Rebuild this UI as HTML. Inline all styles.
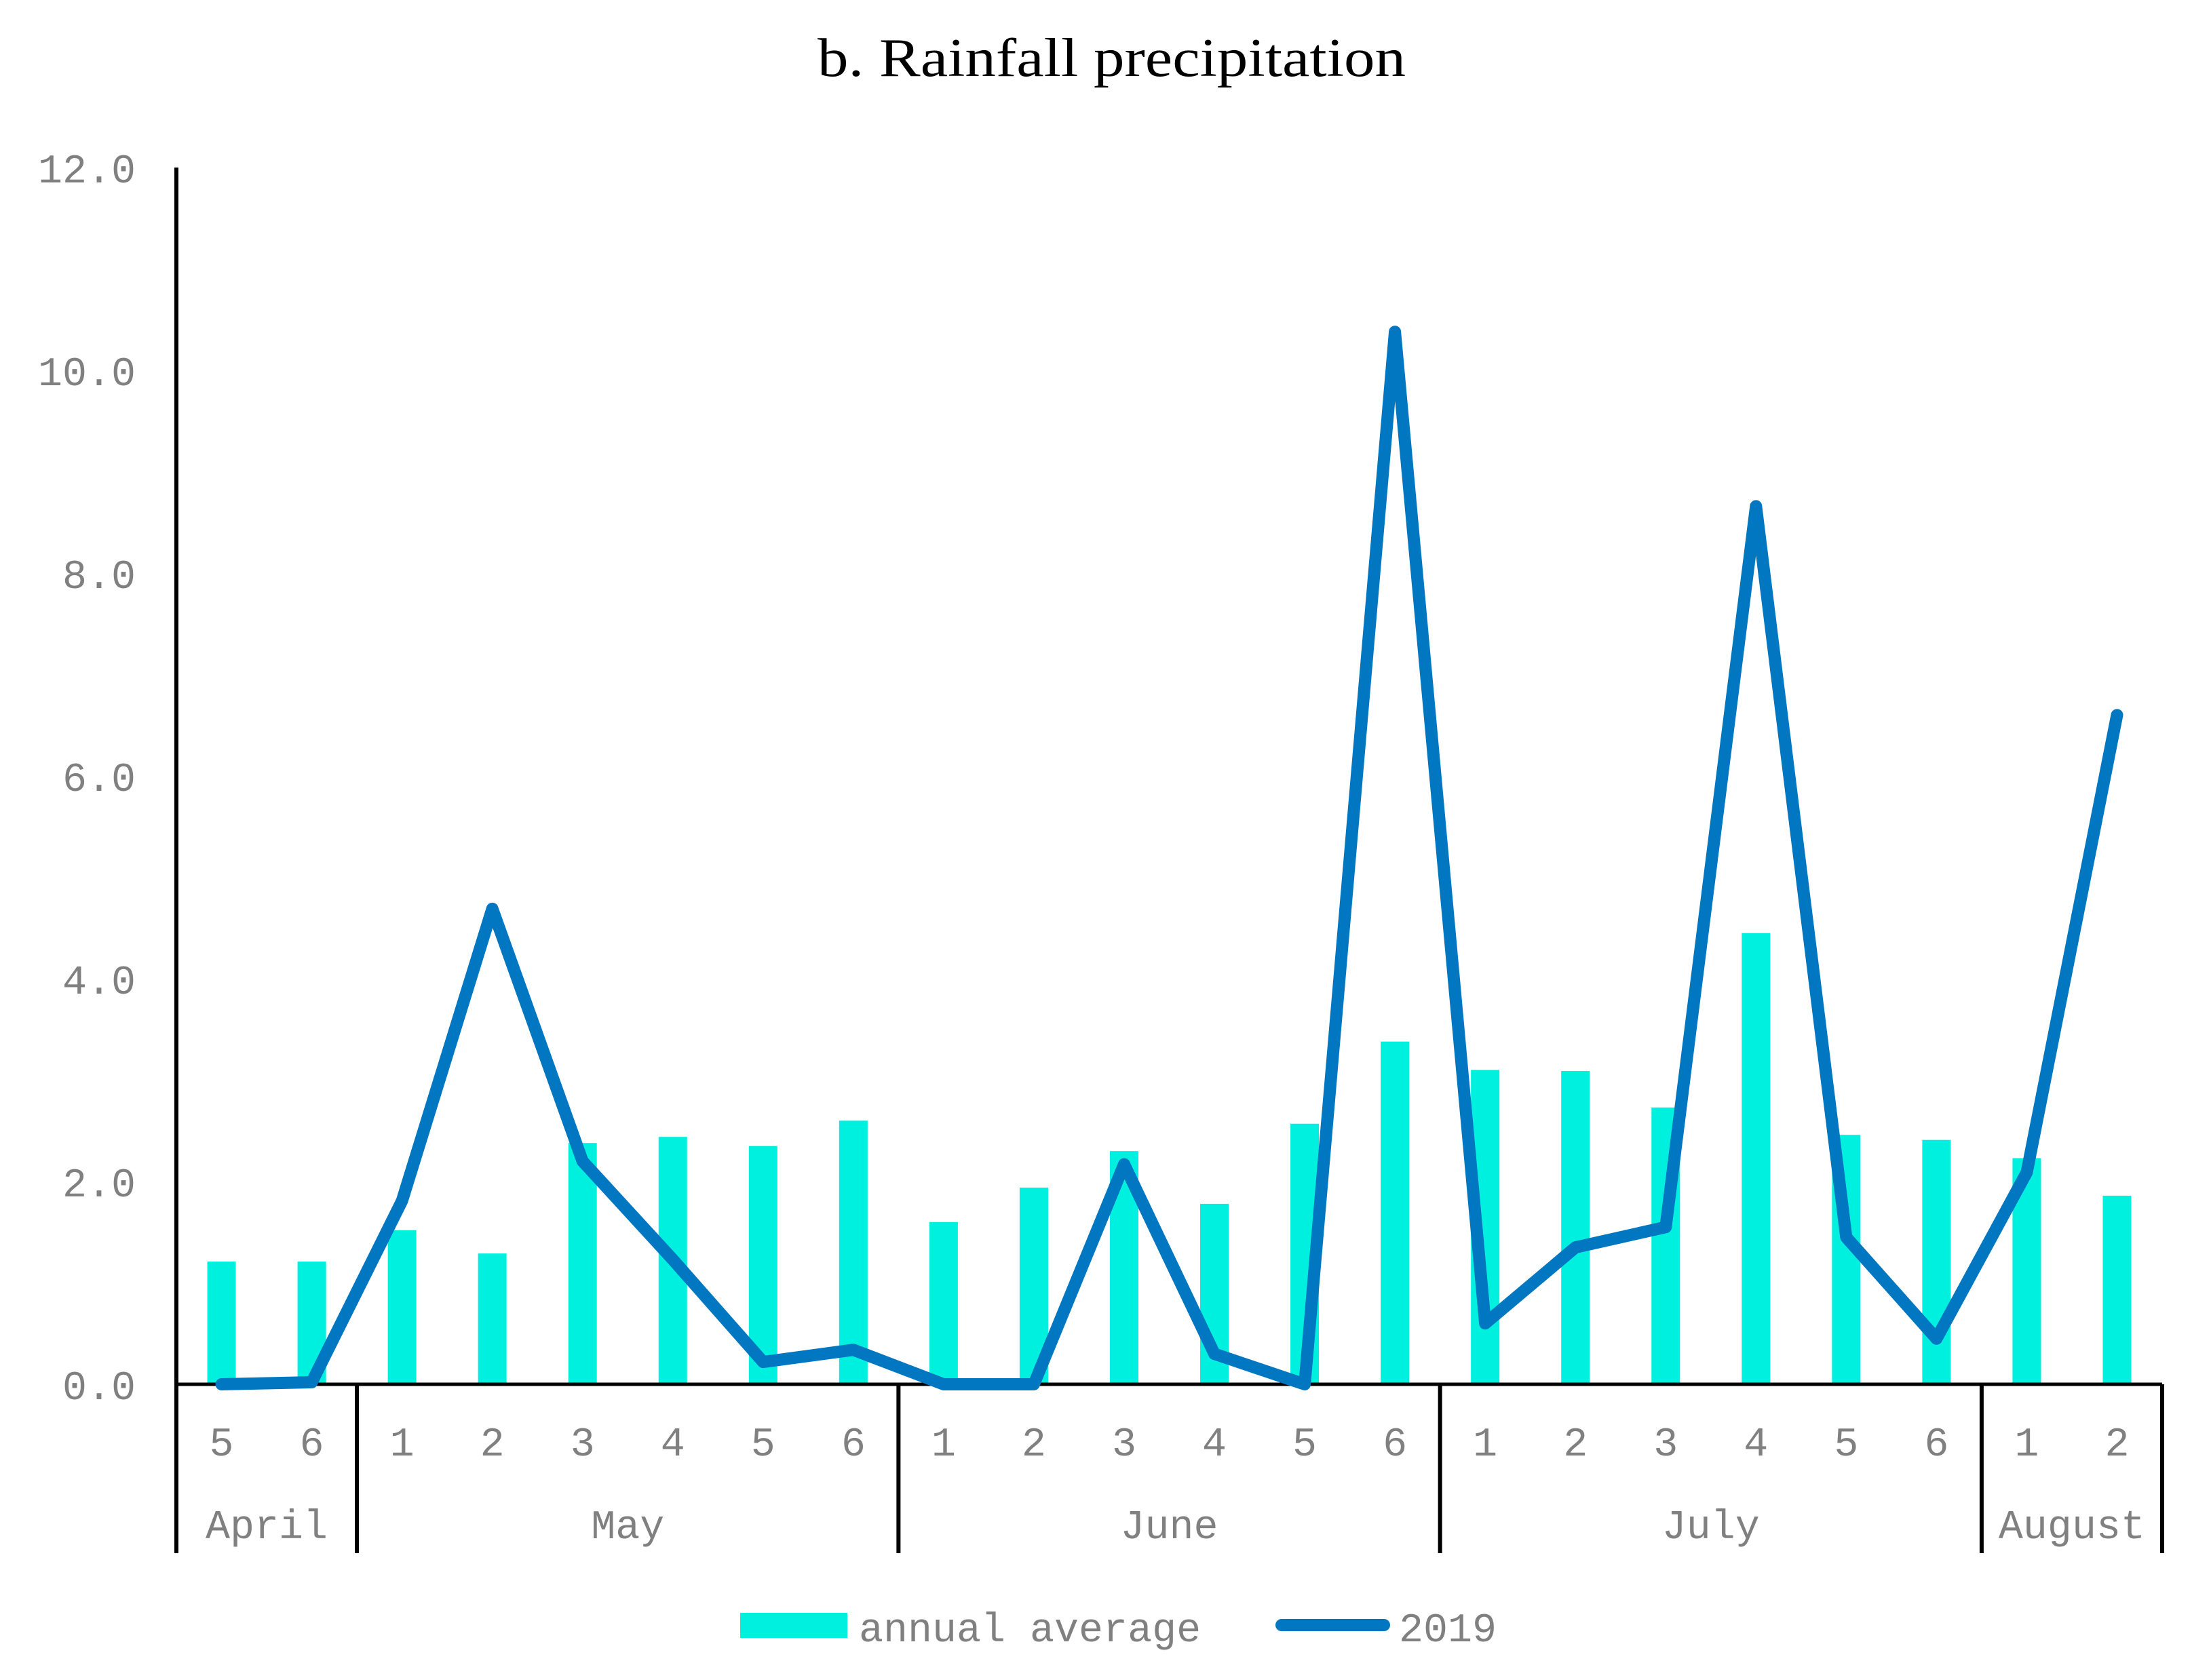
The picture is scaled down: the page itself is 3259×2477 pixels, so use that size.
<!DOCTYPE html>
<html><head><meta charset="utf-8"><style>
html,body{margin:0;padding:0;background:#fff;}
svg{display:block;}
.t{font-family:"Liberation Mono",monospace;fill:#808080;}
</style></head><body>
<svg width="3259" height="2477" viewBox="0 0 3259 2477" xmlns="http://www.w3.org/2000/svg">
<rect width="3259" height="2477" fill="#fff"/>
<text x="1205" y="112" textLength="867" lengthAdjust="spacingAndGlyphs" font-family="Liberation Serif, serif" font-size="80" fill="#000">b. Rainfall precipitation</text>
<g id="plot"></g>
</svg>
<script>
const weeks=["5","6","1","2","3","4","5","6","1","2","3","4","5","6","1","2","3","4","5","6","1","2"];
const months=["April","May","June","July","August"];
const monthSpans=[2,6,6,6,2];
const annualAvg=[1.21,1.21,1.52,1.29,2.38,2.44,2.35,2.6,1.6,1.94,2.3,1.78,2.57,3.38,3.1,3.09,2.73,4.45,2.46,2.41,2.23,1.86];
const rain2019=[0,0.02,1.81,4.69,2.2,1.23,0.22,0.34,0,0,2.17,0.3,0,10.38,0.6,1.35,1.55,8.66,1.45,0.45,2.09,6.6];
const yTicks=[0,2,4,6,8,10,12];
const yTickLabels=["0.0","2.0","4.0","6.0","8.0","10.0","12.0"];

const NS="http://www.w3.org/2000/svg";
const g=document.getElementById('plot');
const X0=260,X1=3187,Y0=2041,Y12=247,YMAX=12;
const slot=(X1-X0)/weeks.length;
const xc=i=>X0+slot*(i+0.5);
const y=v=>Y0-(v/YMAX)*(Y0-Y12);
function mk(tag,attrs,txt){const e=document.createElementNS(NS,tag);for(const k in attrs)e.setAttribute(k,attrs[k]);if(txt!==undefined)e.textContent=txt;g.appendChild(e);return e;}

yTicks.forEach((v,i)=>{
  const e=mk('text',{x:200,y:y(v)+22,'text-anchor':'end','font-size':60,class:'t'},yTickLabels[i]);
  
  
});
annualAvg.forEach((v,i)=>{
  const e=mk('rect',{x:xc(i)-21,y:y(v),width:42,height:Y0-y(v),fill:'#00F0E0'});
  
  
});
let a=mk('line',{x1:X0,y1:Y12,x2:X0,y2:2290,stroke:'#000','stroke-width':6});


a=mk('line',{x1:X0,y1:Y0,x2:X1,y2:Y0,stroke:'#000','stroke-width':5});


let acc=0;
monthSpans.forEach((s,i)=>{
  const start=acc; acc+=s;
  const bx=X0+slot*acc;
  const l=mk('line',{x1:bx,y1:Y0,x2:bx,y2:2290,stroke:'#000','stroke-width':6});
  
  
  const t=mk('text',{x:X0+slot*(start+s/2),y:2268,'text-anchor':'middle','font-size':60,class:'t'},months[i]);
  
  
});
weeks.forEach((w,i)=>{
  const t=mk('text',{x:xc(i),y:2146,'text-anchor':'middle','font-size':60,class:'t'},w);
  
  
});
const pts=rain2019.map((v,i)=>xc(i)+','+y(v)).join(' ');
const pl=mk('polyline',{points:pts,fill:'none',stroke:'#0077C0','stroke-width':18,'stroke-linejoin':'round','stroke-linecap':'round'});


let e=mk('rect',{x:1091,y:2378,width:158,height:37,fill:'#00F0E0'});


e=mk('text',{x:1266,y:2420,'font-size':60,class:'t'},'annual average');


e=mk('line',{x1:1889,y1:2396,x2:2040,y2:2396,stroke:'#0077C0','stroke-width':18,'stroke-linecap':'round'});


e=mk('text',{x:2062,y:2420,'font-size':60,class:'t'},'2019');


</script>
</body></html>
